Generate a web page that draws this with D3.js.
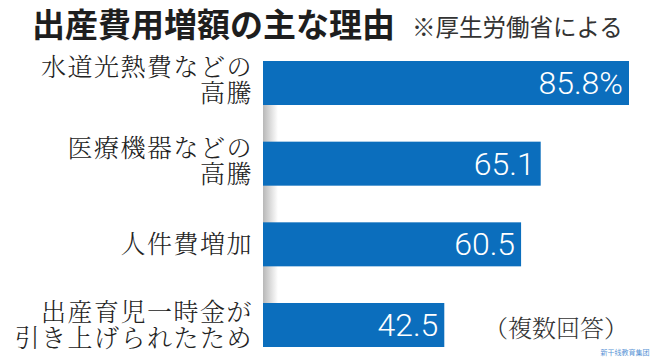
<!DOCTYPE html>
<html>
<head>
<meta charset="utf-8">
<script src="https://cdn.jsdelivr.net/npm/d3@7"></script>
<style>
  body { margin: 0; background: #fff; }
  svg { display: block; }
</style>
</head>
<body>
<svg id="chart"></svg>
<script>
/*
Chart data
 */
var categories = ["water", "medical", "staff", "lumpsum"];
var labelLines = [
    ["水道光熱費などの", "高騰"],
    ["医療機器などの", "高騰"],
    ["人件費増加"],
    ["出産育児一時金が", "引き上げられたため"]
];
var values = [85.8, 65.1, 60.5, 42.5];
var valueLabels = ["85.8%", "65.1", "60.5", "42.5"];

/*
Static constants
 */
const width = 651;
const height = 362;
const barColor = "#0b6ebd";
const labelFont = "'Noto Serif CJK JP', 'Noto Sans CJK JP', serif";
const sansFont = "'Noto Sans CJK JP', 'Noto Sans', sans-serif";

var svg = d3.select("#chart")
    .attr("width", width)
    .attr("height", height);

//Title & source note
svg.append("text")
    .attr("x", 32)
    .attr("y", 37)
    .attr("font-family", sansFont)
    .attr("font-weight", 700)
    .attr("font-size", 33)
    .attr("fill", "#1e1e1e")
    .text("出産費用増額の主な理由");

svg.append("text")
    .attr("x", 412)
    .attr("y", 36)
    .attr("font-family", sansFont)
    .attr("font-weight", 400)
    .attr("font-size", 23.5)
    .attr("fill", "#333")
    .text("※厚生労働省による");

/*
Scales
 */
var y = d3.scaleBand()
    .domain(categories)
    .range([61, 347])
    .paddingInner(0.4545)
    .paddingOuter(0);

var x = d3.scaleLinear()
    .domain([0, 85.8])
    .range([263, 629]);

//grey shading down the base line
var defs = svg.append("defs");
var grad = defs.append("linearGradient")
    .attr("id", "baseShade")
    .attr("x1", "0%").attr("x2", "100%")
    .attr("y1", "0%").attr("y2", "0%");
grad.append("stop").attr("offset", "0%").attr("stop-color", "#b8b8b8");
grad.append("stop").attr("offset", "100%").attr("stop-color", "#ffffff");

svg.append("rect")
    .attr("x", x(0))
    .attr("y", y.range()[0])
    .attr("width", 15)
    .attr("height", y.range()[1] - y.range()[0])
    .attr("fill", "url(#baseShade)");

//Bars
svg.selectAll("rect.bar")
    .data(values)
    .enter().append("rect")
    .attr("class", "bar")
    .attr("x", x(0))
    .attr("y", function(d, i) { return y(categories[i]); })
    .attr("width", function(d) { return x(d) - x(0); })
    .attr("height", y.bandwidth())
    .attr("fill", barColor);

//Value labels inside bars
svg.selectAll("text.value")
    .data(values)
    .enter().append("text")
    .attr("class", "value")
    .attr("x", function(d) { return x(d) - 6; })
    .attr("y", function(d, i) { return y(categories[i]) + y.bandwidth() / 2 + 11; })
    .attr("text-anchor", "end")
    .attr("font-family", "Roboto, 'Noto Sans', sans-serif")
    .attr("font-weight", 300)
    .attr("font-size", 32)
    .attr("fill", "#fff")
    .text(function(d, i) { return valueLabels[i]; });

//Category labels, right aligned against the bars
const lineHeight = 26;
var labels = svg.selectAll("text.cat")
    .data(labelLines)
    .enter().append("text")
    .attr("class", "cat")
    .attr("text-anchor", "end")
    .attr("font-family", labelFont)
    .attr("font-weight", 300)
    .attr("font-size", 25)
    .attr("letter-spacing", 1.5)
    .attr("fill", "#222");

labels.each(function(lines, i) {
    var mid = y(categories[i]) + y.bandwidth() / 2;
    var top = mid - (lines.length - 1) * lineHeight / 2;
    // the two-line labels sit a touch above the bar centre, except the last
    if (lines.length > 1 && i < categories.length - 1) top -= 3;
    d3.select(this).selectAll("tspan")
        .data(lines)
        .enter().append("tspan")
        .attr("x", 253)
        .attr("y", function(d, j) { return top + j * lineHeight + 9; })
        .text(function(d) { return d; });
});

//Note
svg.append("text")
    .attr("x", 484)
    .attr("y", 337)
    .attr("font-family", labelFont)
    .attr("font-weight", 300)
    .attr("font-size", 24)
    .attr("fill", "#333")
    .text("（複数回答）");

//Watermark
svg.append("text")
    .attr("x", 625)
    .attr("y", 355)
    .attr("text-anchor", "middle")
    .attr("font-family", sansFont)
    .attr("font-size", 7)
    .attr("fill", "#5b95d6")
    .text("新干线教育集团");
</script>
</body>
</html>
